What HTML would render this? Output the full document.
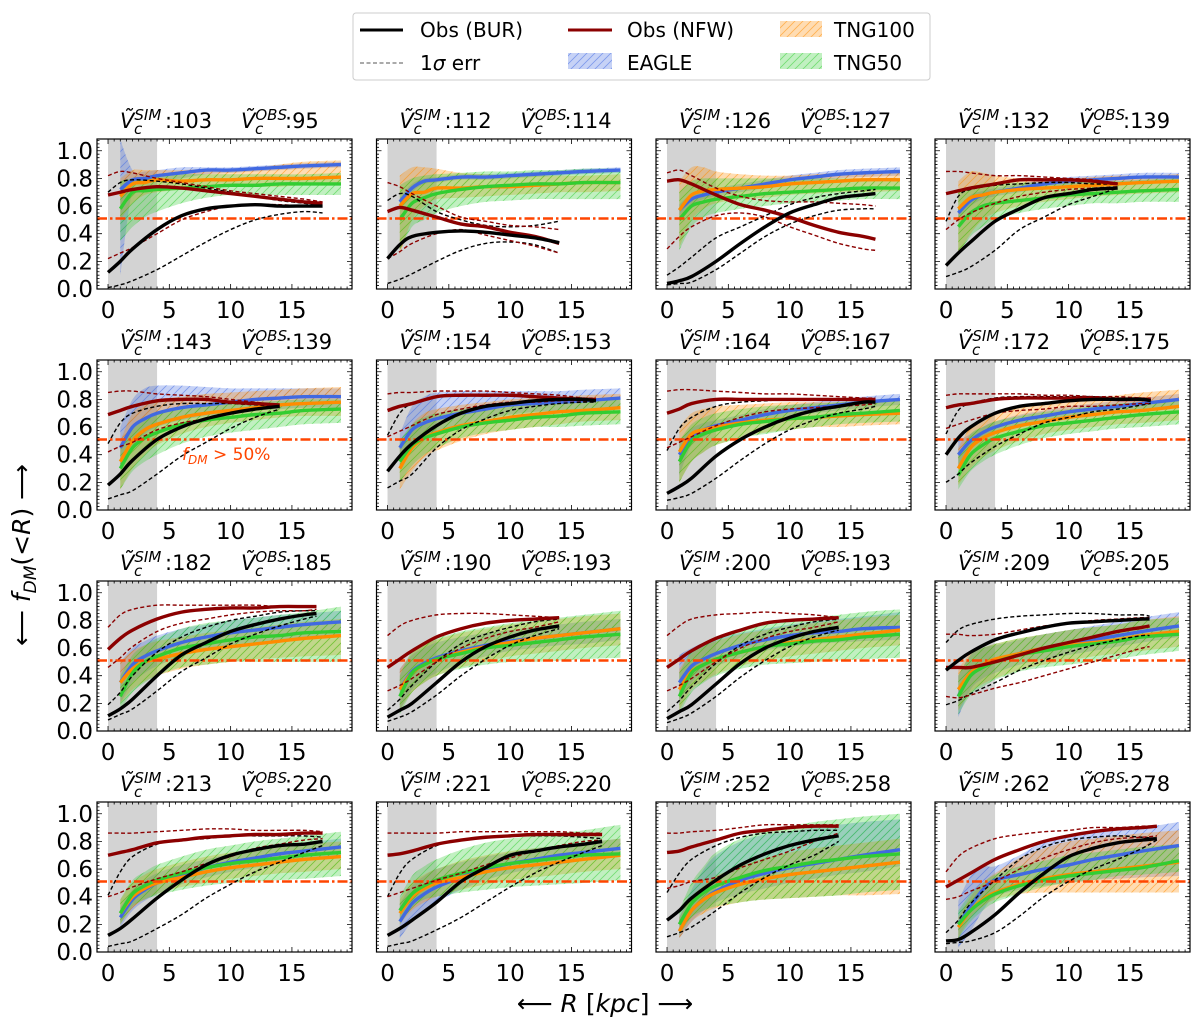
<!DOCTYPE html>
<html><head><meta charset="utf-8"><style>
html,body{margin:0;padding:0;background:#fff;}
svg{display:block;font-family:"DejaVu Sans","Liberation Sans",sans-serif;}
</style></head><body>
<svg id="fig" width="1200" height="1024" viewBox="0 0 1200 1024" xmlns="http://www.w3.org/2000/svg">
<defs>
<pattern id="hb" patternUnits="userSpaceOnUse" width="8" height="8"><path d="M-2,2 L2,-2 M0,8 L8,0 M6,10 L10,6" stroke="#4169e1" stroke-width="0.8" stroke-opacity="0.55"/></pattern>
<pattern id="ho" patternUnits="userSpaceOnUse" width="8" height="8"><path d="M-2,2 L2,-2 M0,8 L8,0 M6,10 L10,6" stroke="#ff8c00" stroke-width="0.8" stroke-opacity="0.55"/></pattern>
<pattern id="hg" patternUnits="userSpaceOnUse" width="8" height="8"><path d="M-2,2 L2,-2 M0,8 L8,0 M6,10 L10,6" stroke="#32cd32" stroke-width="0.8" stroke-opacity="0.55"/></pattern>
</defs>
<g id="legend">
<rect x="353" y="13" width="577" height="67" rx="3" fill="#fff" stroke="#ccc" stroke-width="1"/>
<g><line x1="360" y1="30" x2="403" y2="30" stroke="#000" stroke-width="3"/><text x="420" y="37" font-size="20">Obs (BUR)</text></g>
<g><line x1="568" y1="30" x2="612" y2="30" stroke="#8b0000" stroke-width="3"/><text x="627" y="37" font-size="20">Obs (NFW)</text></g>
<g><rect x="780" y="21" width="42" height="16" fill="#ff8c00" fill-opacity="0.3"/><rect x="780" y="21" width="42" height="16" fill="url(#ho)"/><text x="834" y="37" font-size="20">TNG100</text></g>
<g><line x1="360" y1="63" x2="403" y2="63" stroke="#777" stroke-width="1.3" stroke-dasharray="4,2.5"/><text x="420" y="70" font-size="20">1<tspan font-style="italic">σ</tspan> err</text></g>
<g><rect x="568" y="53" width="44" height="16" fill="#4169e1" fill-opacity="0.3"/><rect x="568" y="53" width="44" height="16" fill="url(#hb)"/><text x="627" y="70" font-size="20">EAGLE</text></g>
<g><rect x="780" y="53" width="42" height="16" fill="#32cd32" fill-opacity="0.3"/><rect x="780" y="53" width="42" height="16" fill="url(#hg)"/><text x="834" y="70" font-size="20">TNG50</text></g>
</g>
<text transform="translate(30,555) rotate(-90)" text-anchor="middle" font-size="25">⟵  <tspan font-style="italic">f</tspan><tspan font-style="italic" font-size="17" dy="6">DM</tspan><tspan dy="-6">(&lt;</tspan><tspan font-style="italic">R</tspan>)  ⟶</text>
<text x="605" y="1012" text-anchor="middle" font-size="25">⟵  <tspan font-style="italic">R</tspan> [<tspan font-style="italic">kpc</tspan>]  ⟶</text>
<g id="panels"></g>
</svg>
<script>
const VSIM=[103,112,126,132,143,154,164,172,182,190,200,209,213,221,252,262];
const VOBS=[95,114,127,139,139,153,167,175,185,193,193,205,220,220,258,278];
const RMAX=[17.5,14,17,14,14,17,17,16.7,17,14,14,16.6,17.5,17.5,14,17.2];
const OBS_GRID=[0,1,2,4,6,8,10,12,14,16];
const SIM_R=[1,2,3,4,6,8,10,12,14,16,19];
const HLINE=[0.51];
const XTICKS=[0,5,10,15];
const YTICKS=[0,0.2,0.4,0.6,0.8,1.0];
const YTICK_LABELS=["0.0","0.2","0.4","0.6","0.8","1.0"];

const BUR=[
[0.12,0.2,0.29,0.43,0.53,0.58,0.6,0.61,0.6,0.6,0.6],
[0.22,0.32,0.38,0.41,0.42,0.41,0.39,0.37,0.335],
[0.04,0.06,0.09,0.2,0.33,0.45,0.55,0.61,0.66,0.68,0.69],
[0.17,0.26,0.34,0.49,0.58,0.66,0.69,0.72,0.73],
[0.18,0.26,0.36,0.51,0.6,0.66,0.7,0.73,0.75],
[0.28,0.39,0.48,0.61,0.7,0.75,0.77,0.79,0.8,0.8,0.79],
[0.12,0.17,0.23,0.39,0.51,0.6,0.67,0.72,0.75,0.78,0.78],
[0.4,0.52,0.6,0.7,0.75,0.77,0.79,0.8,0.8,0.8,0.79],
[0.11,0.16,0.23,0.4,0.55,0.64,0.72,0.77,0.81,0.84,0.85],
[0.1,0.15,0.2,0.35,0.5,0.61,0.68,0.73,0.76],
[0.09,0.14,0.19,0.34,0.49,0.6,0.67,0.72,0.75],
[0.44,0.51,0.57,0.66,0.71,0.75,0.78,0.79,0.8,0.81,0.81],
[0.12,0.17,0.24,0.39,0.52,0.63,0.7,0.74,0.77,0.78,0.8],
[0.12,0.17,0.23,0.36,0.51,0.61,0.7,0.73,0.76,0.78,0.8],
[0.23,0.3,0.39,0.52,0.63,0.71,0.77,0.81,0.84],
[0.08,0.09,0.14,0.27,0.43,0.57,0.69,0.75,0.79,0.81,0.82]];
const BUR_LO=[
[0.01,0.03,0.06,0.14,0.24,0.34,0.43,0.5,0.54,0.56,0.55],
[0.04,0.07,0.11,0.2,0.28,0.33,0.34,0.32,0.26],
[0.03,0.04,0.05,0.14,0.26,0.38,0.47,0.53,0.57,0.58,0.58],
[0.09,0.12,0.16,0.28,0.43,0.52,0.61,0.67,0.73],
[0.08,0.11,0.14,0.26,0.39,0.49,0.59,0.67,0.73],
[0.16,0.21,0.26,0.45,0.58,0.66,0.72,0.75,0.77,0.78,0.78],
[0.07,0.09,0.12,0.23,0.36,0.48,0.58,0.65,0.7,0.73,0.75],
[0.2,0.26,0.34,0.46,0.55,0.63,0.67,0.71,0.73,0.76,0.77],
[0.08,0.12,0.16,0.29,0.43,0.53,0.63,0.7,0.76,0.81,0.83],
[0.07,0.1,0.14,0.26,0.4,0.52,0.62,0.69,0.74],
[0.06,0.09,0.13,0.25,0.39,0.51,0.61,0.68,0.73],
[0.19,0.22,0.27,0.35,0.44,0.51,0.57,0.62,0.66,0.69,0.69],
[0.04,0.06,0.08,0.17,0.27,0.39,0.49,0.58,0.65,0.72,0.77],
[0.04,0.06,0.08,0.16,0.25,0.36,0.47,0.57,0.65,0.72,0.77],
[0.11,0.14,0.18,0.3,0.43,0.54,0.63,0.7,0.8],
[0.06,0.07,0.08,0.14,0.26,0.4,0.51,0.6,0.67,0.75,0.81]];
const BUR_HI=[
[0.7,0.77,0.79,0.78,0.76,0.73,0.7,0.67,0.64,0.62,0.6],
[0.64,0.69,0.67,0.56,0.5,0.46,0.45,0.46,0.49],
[0.1,0.16,0.23,0.37,0.45,0.53,0.61,0.66,0.69,0.71,0.72],
[0.49,0.67,0.72,0.75,0.76,0.77,0.77,0.76,0.76],
[0.48,0.63,0.7,0.75,0.77,0.77,0.77,0.76,0.75],
[0.54,0.7,0.77,0.82,0.83,0.83,0.83,0.82,0.81,0.81,0.8],
[0.43,0.59,0.67,0.75,0.78,0.79,0.8,0.8,0.8,0.8,0.8],
[0.55,0.72,0.77,0.81,0.82,0.82,0.82,0.82,0.81,0.81,0.8],
[0.19,0.28,0.4,0.57,0.68,0.75,0.8,0.83,0.86,0.87,0.87],
[0.15,0.23,0.33,0.5,0.63,0.7,0.75,0.79,0.81],
[0.14,0.22,0.32,0.49,0.62,0.7,0.75,0.79,0.81],
[0.64,0.73,0.77,0.81,0.83,0.84,0.85,0.85,0.84,0.84,0.83],
[0.41,0.58,0.69,0.78,0.81,0.82,0.84,0.84,0.84,0.84,0.83],
[0.4,0.57,0.67,0.77,0.81,0.83,0.84,0.84,0.84,0.83,0.82],
[0.43,0.57,0.67,0.77,0.83,0.86,0.87,0.88,0.88],
[0.14,0.23,0.35,0.52,0.67,0.76,0.81,0.83,0.84,0.83,0.82]];
const NFW=[
[0.68,0.7,0.72,0.74,0.73,0.71,0.69,0.67,0.65,0.63,0.62],
[0.56,0.59,0.57,0.52,0.47,0.45,0.41,0.38,0.33],
[0.78,0.79,0.76,0.68,0.61,0.57,0.52,0.46,0.41,0.38,0.36],
[0.69,0.71,0.73,0.76,0.79,0.79,0.79,0.78,0.76],
[0.69,0.72,0.75,0.79,0.8,0.8,0.78,0.77,0.76],
[0.72,0.75,0.77,0.82,0.83,0.83,0.83,0.82,0.81,0.8,0.8],
[0.7,0.73,0.77,0.8,0.8,0.8,0.8,0.8,0.8,0.8,0.8],
[0.74,0.76,0.77,0.8,0.81,0.81,0.81,0.81,0.8,0.8,0.8],
[0.59,0.67,0.73,0.81,0.86,0.88,0.89,0.89,0.9,0.9,0.9],
[0.46,0.52,0.58,0.68,0.74,0.78,0.8,0.81,0.82],
[0.46,0.52,0.58,0.67,0.73,0.78,0.8,0.81,0.82],
[0.46,0.46,0.46,0.5,0.55,0.6,0.64,0.68,0.72,0.75,0.76],
[0.7,0.72,0.74,0.79,0.81,0.83,0.84,0.85,0.85,0.86,0.86],
[0.7,0.71,0.73,0.78,0.81,0.83,0.84,0.85,0.85,0.85,0.85],
[0.72,0.73,0.76,0.81,0.86,0.88,0.9,0.91,0.91],
[0.47,0.52,0.57,0.67,0.74,0.8,0.84,0.87,0.89,0.9,0.91]];
const NFW_LO=[
[0.22,0.26,0.3,0.4,0.5,0.56,0.6,0.61,0.61,0.6,0.6],
[0.22,0.27,0.33,0.4,0.43,0.39,0.35,0.31,0.26],
[0.29,0.38,0.45,0.53,0.55,0.52,0.45,0.39,0.33,0.29,0.28],
[0.43,0.5,0.55,0.62,0.67,0.7,0.72,0.73,0.74],
[0.42,0.46,0.49,0.58,0.63,0.66,0.7,0.73,0.75],
[0.53,0.57,0.61,0.69,0.73,0.76,0.78,0.78,0.79,0.79,0.79],
[0.45,0.49,0.53,0.61,0.67,0.71,0.73,0.74,0.75,0.76,0.77],
[0.59,0.62,0.65,0.7,0.72,0.73,0.75,0.75,0.76,0.77,0.77],
[0.46,0.53,0.61,0.72,0.78,0.81,0.84,0.86,0.87,0.87,0.88],
[0.29,0.33,0.38,0.5,0.6,0.67,0.72,0.75,0.79],
[0.29,0.33,0.38,0.5,0.6,0.67,0.72,0.75,0.79],
[0.25,0.24,0.26,0.31,0.35,0.4,0.45,0.5,0.55,0.6,0.61],
[0.4,0.43,0.47,0.53,0.58,0.64,0.69,0.75,0.78,0.81,0.82],
[0.4,0.43,0.46,0.52,0.57,0.63,0.68,0.73,0.77,0.8,0.81],
[0.46,0.48,0.51,0.54,0.61,0.67,0.73,0.8,0.86],
[0.38,0.4,0.44,0.51,0.6,0.68,0.74,0.79,0.82,0.83,0.84]];
const NFW_HI=[
[0.82,0.85,0.84,0.8,0.77,0.74,0.71,0.69,0.67,0.65,0.63],
[0.77,0.74,0.69,0.6,0.52,0.49,0.46,0.45,0.43],
[0.84,0.86,0.82,0.73,0.67,0.64,0.63,0.63,0.62,0.61,0.6],
[0.85,0.85,0.84,0.82,0.82,0.81,0.8,0.79,0.76],
[0.85,0.86,0.86,0.84,0.83,0.82,0.8,0.78,0.76],
[0.84,0.85,0.85,0.86,0.86,0.86,0.85,0.84,0.83,0.81,0.81],
[0.86,0.87,0.87,0.86,0.85,0.84,0.84,0.83,0.82,0.81,0.81],
[0.83,0.84,0.84,0.84,0.84,0.83,0.83,0.82,0.82,0.81,0.81],
[0.75,0.84,0.88,0.91,0.91,0.91,0.91,0.91,0.9,0.9,0.9],
[0.69,0.76,0.8,0.84,0.85,0.85,0.84,0.83,0.82],
[0.69,0.76,0.81,0.84,0.85,0.86,0.85,0.84,0.82],
[0.7,0.7,0.69,0.7,0.73,0.76,0.78,0.8,0.81,0.82,0.82],
[0.86,0.86,0.86,0.87,0.88,0.89,0.89,0.88,0.88,0.88,0.87],
[0.86,0.86,0.86,0.86,0.87,0.87,0.87,0.87,0.87,0.86,0.86],
[0.86,0.86,0.87,0.88,0.9,0.92,0.92,0.92,0.92],
[0.58,0.69,0.75,0.82,0.85,0.87,0.88,0.9,0.9,0.91,0.91]];
const EAGLE=[
[0.72,0.79,0.8,0.82,0.84,0.86,0.86,0.87,0.88,0.89,0.9],
[0.63,0.73,0.78,0.79,0.81,0.81,0.82,0.83,0.84,0.85,0.86],
[0.57,0.65,0.68,0.7,0.73,0.76,0.79,0.81,0.83,0.84,0.85],
[0.55,0.64,0.68,0.7,0.73,0.76,0.78,0.79,0.8,0.81,0.81],
[0.45,0.6,0.66,0.7,0.74,0.76,0.78,0.8,0.81,0.82,0.82],
[0.45,0.58,0.63,0.66,0.7,0.73,0.76,0.77,0.78,0.79,0.81],
[0.4,0.53,0.58,0.61,0.65,0.69,0.72,0.74,0.76,0.78,0.8],
[0.4,0.5,0.56,0.6,0.65,0.68,0.71,0.73,0.75,0.77,0.8],
[0.35,0.48,0.54,0.58,0.64,0.68,0.71,0.73,0.75,0.77,0.79],
[0.3,0.43,0.49,0.53,0.58,0.62,0.65,0.67,0.69,0.71,0.74],
[0.35,0.47,0.52,0.56,0.62,0.66,0.69,0.71,0.72,0.74,0.75],
[0.25,0.42,0.47,0.51,0.56,0.6,0.63,0.66,0.69,0.72,0.76],
[0.25,0.38,0.45,0.5,0.56,0.61,0.65,0.68,0.71,0.73,0.76],
[0.22,0.35,0.42,0.47,0.54,0.6,0.64,0.67,0.7,0.72,0.75],
[0.15,0.3,0.38,0.44,0.52,0.57,0.61,0.64,0.67,0.7,0.74],
[0.2,0.33,0.45,0.52,0.56,0.6,0.63,0.67,0.7,0.73,0.77]];
const EAGLE_LO=[
[0.1,0.72,0.76,0.78,0.8,0.83,0.84,0.85,0.86,0.87,0.88],
[0.6,0.7,0.76,0.77,0.79,0.79,0.8,0.81,0.82,0.83,0.84],
[0.53,0.61,0.65,0.67,0.7,0.73,0.76,0.78,0.8,0.81,0.82],
[0.51,0.6,0.65,0.67,0.7,0.73,0.75,0.76,0.77,0.78,0.78],
[0.3,0.45,0.55,0.6,0.65,0.68,0.7,0.72,0.73,0.74,0.74],
[0.35,0.45,0.52,0.56,0.62,0.66,0.69,0.71,0.72,0.73,0.74],
[0.25,0.47,0.53,0.57,0.61,0.65,0.68,0.7,0.72,0.74,0.76],
[0.3,0.45,0.52,0.56,0.61,0.64,0.67,0.69,0.71,0.73,0.76],
[0.2,0.35,0.42,0.47,0.54,0.59,0.62,0.64,0.66,0.67,0.68],
[0.15,0.3,0.37,0.42,0.49,0.54,0.58,0.6,0.62,0.63,0.66],
[0.2,0.35,0.42,0.47,0.53,0.58,0.61,0.63,0.64,0.65,0.66],
[0.1,0.3,0.38,0.42,0.48,0.52,0.55,0.58,0.61,0.64,0.68],
[0.18,0.3,0.37,0.42,0.49,0.54,0.58,0.61,0.64,0.66,0.69],
[0.1,0.22,0.3,0.36,0.45,0.52,0.57,0.6,0.63,0.66,0.69],
[0.1,0.22,0.3,0.36,0.42,0.46,0.5,0.53,0.56,0.58,0.62],
[0.03,0.15,0.3,0.4,0.45,0.48,0.5,0.52,0.53,0.54,0.55]];
const EAGLE_HI=[
[1.08,0.86,0.85,0.86,0.88,0.88,0.88,0.89,0.9,0.91,0.92],
[0.66,0.76,0.8,0.81,0.83,0.83,0.84,0.85,0.86,0.87,0.88],
[0.61,0.69,0.71,0.73,0.76,0.79,0.82,0.84,0.86,0.87,0.88],
[0.59,0.68,0.71,0.73,0.76,0.79,0.81,0.82,0.83,0.84,0.84],
[0.6,0.8,0.88,0.9,0.9,0.89,0.88,0.88,0.88,0.88,0.88],
[0.55,0.75,0.82,0.85,0.86,0.86,0.86,0.86,0.86,0.87,0.88],
[0.5,0.59,0.63,0.65,0.69,0.73,0.76,0.78,0.8,0.82,0.84],
[0.5,0.55,0.6,0.64,0.69,0.72,0.75,0.77,0.79,0.81,0.84],
[0.5,0.6,0.65,0.69,0.74,0.77,0.8,0.82,0.84,0.85,0.87],
[0.45,0.55,0.6,0.64,0.68,0.71,0.73,0.75,0.77,0.79,0.81],
[0.55,0.6,0.64,0.67,0.71,0.74,0.77,0.79,0.81,0.83,0.86],
[0.4,0.55,0.6,0.62,0.66,0.7,0.73,0.76,0.79,0.82,0.86],
[0.32,0.45,0.52,0.57,0.63,0.67,0.71,0.74,0.77,0.79,0.82],
[0.35,0.48,0.55,0.6,0.65,0.69,0.72,0.75,0.77,0.79,0.82],
[0.25,0.45,0.6,0.7,0.8,0.85,0.87,0.9,0.92,0.94,0.96],
[0.37,0.55,0.62,0.62,0.7,0.8,0.85,0.87,0.89,0.9,0.94]];
const T100=[
[0.67,0.76,0.77,0.79,0.78,0.79,0.79,0.8,0.8,0.8,0.81],
[0.6,0.69,0.7,0.73,0.73,0.74,0.74,0.75,0.76,0.77,0.77],
[0.57,0.68,0.71,0.72,0.73,0.74,0.76,0.77,0.78,0.79,0.79],
[0.58,0.66,0.68,0.7,0.72,0.73,0.74,0.75,0.76,0.77,0.78],
[0.35,0.5,0.58,0.62,0.67,0.7,0.72,0.74,0.76,0.77,0.78],
[0.3,0.45,0.52,0.56,0.61,0.64,0.67,0.69,0.71,0.72,0.74],
[0.42,0.55,0.58,0.6,0.63,0.65,0.66,0.67,0.68,0.69,0.7],
[0.3,0.45,0.52,0.56,0.61,0.64,0.67,0.69,0.71,0.72,0.75],
[0.35,0.45,0.5,0.52,0.56,0.59,0.61,0.63,0.65,0.67,0.69],
[0.3,0.42,0.48,0.52,0.57,0.61,0.64,0.67,0.69,0.71,0.74],
[0.3,0.43,0.48,0.52,0.57,0.61,0.64,0.66,0.68,0.7,0.73],
[0.3,0.42,0.48,0.52,0.56,0.6,0.62,0.64,0.66,0.69,0.72],
[0.28,0.4,0.46,0.5,0.54,0.58,0.61,0.63,0.65,0.67,0.69],
[0.28,0.4,0.46,0.5,0.54,0.58,0.61,0.63,0.65,0.67,0.7],
[0.15,0.3,0.38,0.43,0.49,0.53,0.56,0.58,0.6,0.62,0.65],
[0.18,0.3,0.38,0.43,0.49,0.53,0.56,0.58,0.6,0.62,0.65]];
const T100_LO=[
[0.5,0.62,0.68,0.7,0.72,0.74,0.74,0.74,0.74,0.75,0.75],
[0.25,0.5,0.6,0.65,0.66,0.67,0.68,0.69,0.7,0.7,0.71],
[0.3,0.5,0.58,0.62,0.65,0.66,0.68,0.69,0.7,0.7,0.71],
[0.25,0.4,0.5,0.55,0.6,0.63,0.65,0.67,0.68,0.69,0.7],
[0.15,0.3,0.4,0.47,0.55,0.6,0.63,0.65,0.67,0.68,0.68],
[0.15,0.28,0.38,0.43,0.5,0.55,0.58,0.6,0.62,0.64,0.65],
[0.2,0.35,0.42,0.47,0.52,0.56,0.58,0.6,0.6,0.61,0.62],
[0.18,0.3,0.38,0.43,0.5,0.55,0.58,0.6,0.62,0.63,0.65],
[0.2,0.3,0.36,0.4,0.45,0.48,0.5,0.52,0.53,0.54,0.55],
[0.15,0.28,0.35,0.4,0.46,0.5,0.54,0.56,0.58,0.6,0.62],
[0.15,0.3,0.36,0.41,0.47,0.51,0.54,0.56,0.58,0.6,0.62],
[0.15,0.28,0.34,0.38,0.44,0.48,0.51,0.54,0.56,0.58,0.61],
[0.2,0.32,0.38,0.42,0.47,0.5,0.53,0.55,0.57,0.58,0.6],
[0.2,0.3,0.36,0.4,0.45,0.49,0.52,0.54,0.56,0.58,0.6],
[0.1,0.22,0.28,0.32,0.36,0.38,0.39,0.4,0.41,0.41,0.42],
[0.1,0.25,0.33,0.38,0.42,0.43,0.43,0.43,0.43,0.43,0.43]];
const T100_HI=[
[0.8,0.86,0.86,0.86,0.86,0.87,0.87,0.88,0.9,0.92,0.93],
[0.82,0.88,0.88,0.87,0.84,0.83,0.82,0.82,0.82,0.82,0.83],
[0.78,0.88,0.88,0.85,0.83,0.82,0.82,0.83,0.84,0.84,0.85],
[0.78,0.85,0.84,0.82,0.8,0.8,0.8,0.81,0.82,0.82,0.83],
[0.5,0.7,0.76,0.8,0.82,0.84,0.85,0.86,0.87,0.88,0.89],
[0.45,0.62,0.7,0.73,0.76,0.78,0.8,0.81,0.82,0.83,0.84],
[0.6,0.7,0.73,0.75,0.76,0.77,0.78,0.78,0.78,0.79,0.8],
[0.45,0.6,0.66,0.7,0.74,0.77,0.79,0.81,0.83,0.85,0.87],
[0.5,0.58,0.62,0.65,0.68,0.71,0.73,0.75,0.77,0.79,0.81],
[0.45,0.56,0.62,0.66,0.71,0.74,0.77,0.79,0.81,0.83,0.85],
[0.45,0.56,0.61,0.65,0.7,0.73,0.76,0.78,0.8,0.82,0.84],
[0.45,0.56,0.6,0.63,0.67,0.7,0.73,0.75,0.77,0.8,0.83],
[0.38,0.5,0.56,0.6,0.65,0.69,0.72,0.74,0.76,0.78,0.8],
[0.38,0.5,0.56,0.6,0.66,0.7,0.73,0.75,0.77,0.79,0.82],
[0.25,0.4,0.48,0.55,0.62,0.68,0.72,0.75,0.77,0.79,0.82],
[0.25,0.4,0.5,0.57,0.68,0.75,0.8,0.82,0.84,0.86,0.88]];
const T50=[
[0.58,0.7,0.71,0.72,0.73,0.74,0.75,0.75,0.76,0.76,0.76],
[0.5,0.62,0.66,0.69,0.72,0.74,0.75,0.76,0.76,0.77,0.77],
[0.5,0.6,0.63,0.65,0.67,0.69,0.7,0.71,0.72,0.73,0.73],
[0.45,0.55,0.6,0.62,0.64,0.66,0.68,0.69,0.7,0.71,0.72],
[0.3,0.45,0.52,0.56,0.62,0.65,0.67,0.69,0.7,0.72,0.73],
[0.35,0.47,0.52,0.55,0.6,0.63,0.65,0.67,0.68,0.7,0.71],
[0.35,0.5,0.55,0.58,0.62,0.64,0.66,0.67,0.69,0.7,0.72],
[0.25,0.4,0.47,0.52,0.57,0.61,0.63,0.65,0.67,0.69,0.71],
[0.25,0.42,0.5,0.54,0.6,0.63,0.66,0.68,0.69,0.71,0.72],
[0.25,0.42,0.48,0.52,0.56,0.6,0.62,0.64,0.66,0.68,0.7],
[0.25,0.42,0.48,0.52,0.57,0.61,0.63,0.65,0.66,0.68,0.7],
[0.25,0.4,0.46,0.5,0.55,0.58,0.61,0.63,0.65,0.68,0.7],
[0.28,0.42,0.48,0.52,0.57,0.61,0.64,0.66,0.68,0.7,0.72],
[0.3,0.42,0.48,0.52,0.57,0.61,0.64,0.66,0.68,0.7,0.71],
[0.2,0.35,0.43,0.48,0.54,0.59,0.62,0.65,0.67,0.69,0.71],
[0.2,0.3,0.37,0.42,0.48,0.52,0.55,0.57,0.59,0.61,0.66]];
const T50_LO=[
[0.35,0.45,0.52,0.56,0.62,0.66,0.68,0.68,0.68,0.68,0.68],
[0.28,0.45,0.5,0.55,0.6,0.63,0.64,0.65,0.65,0.65,0.65],
[0.28,0.45,0.52,0.55,0.58,0.6,0.62,0.63,0.64,0.65,0.65],
[0.25,0.38,0.45,0.5,0.55,0.58,0.6,0.62,0.62,0.63,0.63],
[0.15,0.28,0.35,0.4,0.48,0.53,0.56,0.58,0.6,0.62,0.63],
[0.2,0.32,0.4,0.45,0.52,0.56,0.58,0.6,0.6,0.61,0.62],
[0.2,0.35,0.42,0.47,0.52,0.55,0.58,0.6,0.62,0.63,0.64],
[0.15,0.28,0.35,0.4,0.47,0.52,0.55,0.57,0.59,0.6,0.62],
[0.15,0.28,0.35,0.4,0.46,0.48,0.5,0.5,0.5,0.5,0.5],
[0.12,0.28,0.35,0.4,0.45,0.48,0.5,0.5,0.51,0.52,0.53],
[0.12,0.28,0.35,0.4,0.45,0.48,0.49,0.5,0.51,0.52,0.53],
[0.12,0.26,0.32,0.37,0.43,0.46,0.48,0.5,0.52,0.55,0.58],
[0.2,0.33,0.38,0.41,0.45,0.48,0.5,0.51,0.52,0.53,0.55],
[0.2,0.32,0.38,0.4,0.43,0.45,0.47,0.48,0.49,0.5,0.52],
[0.12,0.25,0.3,0.33,0.36,0.38,0.39,0.4,0.41,0.43,0.45],
[0.1,0.22,0.3,0.36,0.42,0.47,0.5,0.52,0.55,0.56,0.58]];
const T50_HI=[
[0.78,0.8,0.81,0.82,0.83,0.83,0.83,0.83,0.83,0.83,0.84],
[0.75,0.8,0.82,0.83,0.84,0.85,0.85,0.86,0.86,0.87,0.87],
[0.7,0.78,0.8,0.8,0.8,0.8,0.8,0.8,0.8,0.8,0.8],
[0.7,0.74,0.76,0.76,0.77,0.77,0.78,0.78,0.78,0.79,0.8],
[0.45,0.6,0.67,0.7,0.74,0.76,0.78,0.78,0.79,0.8,0.8],
[0.5,0.62,0.67,0.7,0.73,0.75,0.77,0.78,0.78,0.79,0.8],
[0.5,0.62,0.67,0.7,0.73,0.75,0.76,0.77,0.78,0.79,0.8],
[0.4,0.55,0.6,0.64,0.68,0.71,0.73,0.75,0.77,0.78,0.8],
[0.4,0.55,0.62,0.67,0.74,0.78,0.8,0.82,0.84,0.86,0.9],
[0.4,0.58,0.64,0.67,0.72,0.75,0.78,0.8,0.82,0.84,0.87],
[0.42,0.58,0.64,0.68,0.73,0.77,0.8,0.82,0.84,0.86,0.88],
[0.4,0.55,0.6,0.63,0.67,0.7,0.73,0.75,0.77,0.8,0.82],
[0.38,0.52,0.58,0.63,0.69,0.74,0.77,0.8,0.82,0.84,0.87],
[0.4,0.55,0.62,0.67,0.74,0.79,0.82,0.84,0.86,0.88,0.92],
[0.3,0.5,0.62,0.72,0.82,0.88,0.91,0.94,0.96,0.98,1.0],
[0.3,0.42,0.5,0.56,0.62,0.66,0.7,0.72,0.74,0.76,0.78]];

const NS="http://www.w3.org/2000/svg";
const COL_X=[97,376.5,656,935], ROW_Y=[139,360,581,802], PW=255, PH=150;
const XMIN=-0.9, XMAX=19.9, YMIN=0, YMAX=1.085;
function mk(tag,attrs,parent){const e=document.createElementNS(NS,tag);for(const k in attrs)e.setAttribute(k,attrs[k]);if(parent)parent.appendChild(e);return e;}
function obsR(p){const r=OBS_GRID.filter(v=>v<RMAX[p]-0.3);r.push(RMAX[p]);return r;}
function smooth(pts){
  let d="M"+pts[0][0].toFixed(2)+","+pts[0][1].toFixed(2);
  for(let i=0;i<pts.length-1;i++){
    const p0=pts[i-1]||pts[i],p1=pts[i],p2=pts[i+1],p3=pts[i+2]||p2;
    const c1=[p1[0]+(p2[0]-p0[0])/6,p1[1]+(p2[1]-p0[1])/6];
    const c2=[p2[0]-(p3[0]-p1[0])/6,p2[1]-(p3[1]-p1[1])/6];
    d+=" C"+c1[0].toFixed(2)+","+c1[1].toFixed(2)+" "+c2[0].toFixed(2)+","+c2[1].toFixed(2)+" "+p2[0].toFixed(2)+","+p2[1].toFixed(2);
  }
  return d;
}
const root=document.getElementById("panels");
for(let p=0;p<16;p++){
  const col=p%4,row=Math.floor(p/4);
  const L=COL_X[col],T=ROW_Y[row];
  const sx=v=>L+(v-XMIN)/(XMAX-XMIN)*PW;
  const sy=v=>T+PH-(v-YMIN)/(YMAX-YMIN)*PH;
  const g=mk("g",{},root);
  
  
  const cp=mk("clipPath",{id:"cp"+p},g);
  mk("rect",{x:L,y:T,width:PW,height:PH},cp);
  const plot=mk("g",{"clip-path":"url(#cp"+p+")"},g);
  const shade=mk("rect",{x:sx(0),y:T,width:sx(4)-sx(0),height:PH,fill:"#d3d3d3"},plot);
  
  
  const sims=[["eagle",EAGLE,EAGLE_LO,EAGLE_HI,"#4169e1","hb"],["tng100",T100,T100_LO,T100_HI,"#ff8c00","ho"],["tng50",T50,T50_LO,T50_HI,"#32cd32","hg"]];
  sims.forEach(s=>{
    const lo=s[2][p].map((v,i)=>[sx(SIM_R[i]),sy(v)]);
    const hi=s[3][p].map((v,i)=>[sx(SIM_R[i]),sy(v)]).reverse();
    let d=smooth(lo)+" L"+smooth(hi).slice(1)+" Z";
    const b=mk("path",{d:d,fill:s[4],"fill-opacity":0.3},plot);
    
    
    mk("path",{d:d,fill:"url(#"+s[5]+")"},plot);
  });
  sims.forEach(s=>{
    const l=mk("path",{d:smooth(s[1][p].map((v,i)=>[sx(SIM_R[i]),sy(v)])),fill:"none",stroke:s[4],"stroke-width":3.4},plot);
    
    
  });
  const hl=mk("line",{x1:L,x2:L+PW,y1:sy(HLINE[0]),y2:sy(HLINE[0]),stroke:"#ff4500","stroke-width":2.4,"stroke-dasharray":"10,3,2.5,3"},plot);
  
  
  const R=obsR(p);
  const obs=[["bur-lo",BUR_LO,"#000",1.4,"4,2.5"],["bur-hi",BUR_HI,"#000",1.4,"4,2.5"],["nfw-lo",NFW_LO,"#8b0000",1.4,"4,2.5"],["nfw-hi",NFW_HI,"#8b0000",1.4,"4,2.5"],["obs-nfw",NFW,"#8b0000",3.4,null],["obs-bur",BUR,"#000",3.4,null]];
  obs.forEach(o=>{
    const a={d:smooth(o[1][p].map((v,i)=>[sx(R[i]),sy(v)])),fill:"none",stroke:o[2],"stroke-width":o[3]};
    if(o[4])a["stroke-dasharray"]=o[4];
    const l=mk("path",a,plot);
    
    
  });
  const frame=mk("rect",{x:L,y:T,width:PW,height:PH,fill:"none",stroke:"#000","stroke-width":1.2},g);
  
  
  let td="";
  for(let v=0;v<=19.5;v+=0.5){const x=sx(v),len=(v%5===0)?5:2.5;td+="M"+x+","+(T+PH)+"v"+(-len)+"M"+x+","+T+"v"+len;}
  for(let k=0;k<=43;k++){const v=k*0.025,y=sy(v),len=(k%8===0)?5:2.5;td+="M"+L+","+y+"h"+len+"M"+(L+PW)+","+y+"h"+(-len);}
  mk("path",{d:td,stroke:"#000","stroke-width":0.8,fill:"none"},g);
  XTICKS.forEach(v=>{
    const t=mk("text",{x:sx(v),y:T+PH+29,"text-anchor":"middle","font-size":23},g);
    t.textContent=String(v);
    
    
  });
  if(col===0){
    YTICKS.forEach((v,i)=>{
      const t=mk("text",{x:L-4,y:sy(v)+8,"text-anchor":"end","font-size":23},g);
      t.textContent=YTICK_LABELS[i];
      
      
    });
  }
  const title=mk("text",{y:T-11,"font-size":21},g);
  
  
  title.innerHTML='<tspan x="'+(L+23)+'" font-style="italic">Ṽ</tspan><tspan font-style="italic" font-size="15" dy="-8">SIM</tspan><tspan x="'+(L+37)+'" font-style="italic" font-size="15" dy="14">c</tspan><tspan x="'+(L+68)+'" dy="-6">:103'.replace('103','')+VSIM[p]+'</tspan>'+
   '<tspan x="'+(L+144)+'" font-style="italic">Ṽ</tspan><tspan font-style="italic" font-size="15" dy="-8">OBS</tspan><tspan x="'+(L+158)+'" font-style="italic" font-size="15" dy="14">c</tspan><tspan x="'+(L+188)+'" dy="-6">:'+VOBS[p]+'</tspan>';
  if(p===4){
    const a=mk("text",{x:182,y:460,fill:"#ff4500","font-size":17},g);
    a.innerHTML='<tspan font-style="italic">f</tspan><tspan font-style="italic" font-size="12" dy="4">DM</tspan><tspan dy="-4"> &gt; 50%</tspan>';
    
    
  }
}
</script>
</body></html>
